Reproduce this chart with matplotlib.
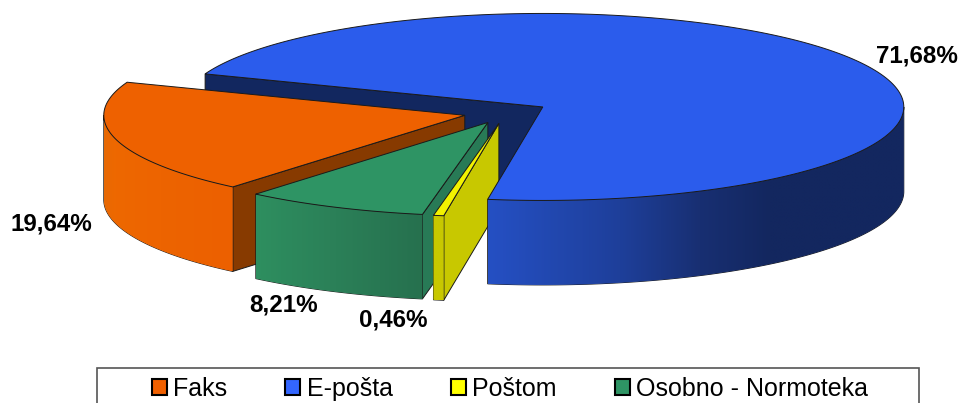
"""Exploded 3D pie chart of submission channels."""

import matplotlib

matplotlib.use("Agg")
import matplotlib.pyplot as plt  # noqa: E402
import numpy as np  # noqa: E402
from matplotlib.colors import to_rgb  # noqa: E402
from matplotlib.patches import Patch, Polygon, Rectangle  # noqa: E402

plt.rcParams["font.family"] = ["Liberation Sans", "DejaVu Sans"]

categories = ["Faks", "E-pošta", "Poštom", "Osobno - Normoteka"]
values = [19.64, 71.68, 0.46, 8.21]
legend_colors = ["#f06000", "#3366ff", "#ffff00", "#2e9464"]

# Appearance of each slice
top_colors = ["#ee6100", "#2b5cec", "#f2f200", "#2e9464"]
cut_colors = ["#873a00", "#12275f", "#c8c800", "#287a56"]
wall_stops = [
    [(-180, "#e56a05"), (-165, "#ee6800"), (-130, "#ec6000")],
    [(-99, "#2550c4"), (-77.7, "#1e3f9a"), (-64.3, "#182f72"), (-51.2, "#13275f"), (0, "#13275f")],
    [(-101, "#c8c800"), (-99, "#c8c800")],
    [(-131, "#2e9060"), (-115, "#2b8058"), (-100, "#26704e")],
]
layer = [2, 5, 4, 3]  # E-pošta top covers the exploded slices

# Pie geometry in pixels
CX, CY = 506.0, 112.5
RX, RY = 361.0, 93.5
DEPTH = 84.5
EXPLODE = 0.118
START = 230.0  # Faks begins here, slices run clockwise

LINE = "#1a1a1a"

fig = plt.figure(figsize=(9.6, 4.03), dpi=100)
ax = fig.add_axes([0, 0, 1, 1])


def rim(x0, y0, t):
    rad = np.radians(t)
    return x0 + RX * np.cos(rad), y0 - RY * np.sin(rad)


def draw_wall(i, x0, y0, lo, hi, z):
    """Shade the outer wall between angles lo and hi with a clipped gradient."""
    ts = np.linspace(lo, hi, 120)
    xs, ys = rim(x0, y0, ts)
    outline = Polygon(
        list(zip(xs, ys)) + list(zip(xs[::-1], ys[::-1] + DEPTH)),
        fc="none", ec=LINE, lw=0.7, zorder=z,
    )
    ax.add_patch(outline)

    stop_t = [s[0] for s in wall_stops[i]]
    stop_rgb = np.array([to_rgb(s[1]) for s in wall_stops[i]])
    columns = np.linspace(xs[0], xs[-1], 400)
    col_t = -np.degrees(np.arccos(np.clip((columns - x0) / RX, -1, 1)))
    shade = np.stack([np.interp(col_t, stop_t, stop_rgb[:, k]) for k in range(3)], axis=-1)
    im = ax.imshow(
        shade[np.newaxis, :, :], aspect="auto", interpolation="bilinear",
        extent=(xs[0], xs[-1], ys.max() + DEPTH, ys.min()), zorder=z,
    )
    im.set_clip_path(outline)


def draw_slice(i, a0, sweep):
    """Draw slice i, running clockwise from angle a0 through sweep degrees."""
    a1 = a0 - sweep
    mid = np.radians((a0 + a1) / 2)
    x0 = CX + EXPLODE * RX * np.cos(mid)
    y0 = CY - EXPLODE * RY * np.sin(mid)
    z = layer[i]

    # Flat cut face: only the clockwise-first edge faces the viewer here.
    if np.cos(np.radians(a0)) < 0:
        xe, ye = rim(x0, y0, a0)
        face = [(x0, y0), (xe, ye), (xe, ye + DEPTH), (x0, y0 + DEPTH)]
        # E-pošta's cut face sits behind every other slice.
        ax.add_patch(Polygon(face, fc=cut_colors[i], ec=LINE, lw=0.7,
                             zorder=1 if i == 1 else z))

    # Outer wall, front half of the ellipse only.
    a0n = (a0 + 180) % 360 - 180
    lo, hi = max(a0n - sweep, -180), min(a0n, 0)
    if hi > lo:
        draw_wall(i, x0, y0, lo, hi, z)

    # Top face
    xs, ys = rim(x0, y0, np.linspace(a0, a1, 200))
    ax.add_patch(Polygon([(x0, y0)] + list(zip(xs, ys)),
                         fc=top_colors[i], ec=LINE, lw=0.7, zorder=z))


total = sum(values)
angle = START
for i, value in enumerate(values):
    sweep = 360.0 * value / total
    draw_slice(i, angle, sweep)
    angle -= sweep

# Value labels
label_pos = [(51, 224), (917, 56), (393, 320), (284, 305)]
for value, (x, y) in zip(values, label_pos):
    ax.text(x, y, f"{value:.2f}%".replace(".", ","), ha="center", va="center",
            fontsize=17.4, fontweight="bold", color="black", zorder=6)

ax.set_xlim(0, 960)
ax.set_ylim(403, 0)
ax.axis("off")

# Legend box runs past the bottom of the image
ax.add_patch(Rectangle((97, 368), 822, 45, fc="white", ec="#555555", lw=1.2, zorder=6))
handles = [Patch(fc=c, ec="black", lw=1.5) for c in legend_colors]
legend = ax.legend(
    handles, categories, ncol=4, frameon=False, loc="center",
    bbox_to_anchor=(510, 389), bbox_transform=ax.transData,
    fontsize=18, handlelength=0.6, handleheight=0.6,
    handletextpad=0.25, columnspacing=2.33, borderpad=0, labelspacing=0,
)
legend.set_zorder(7)

fig.savefig("out.png", dpi=100)
plt.close(fig)
